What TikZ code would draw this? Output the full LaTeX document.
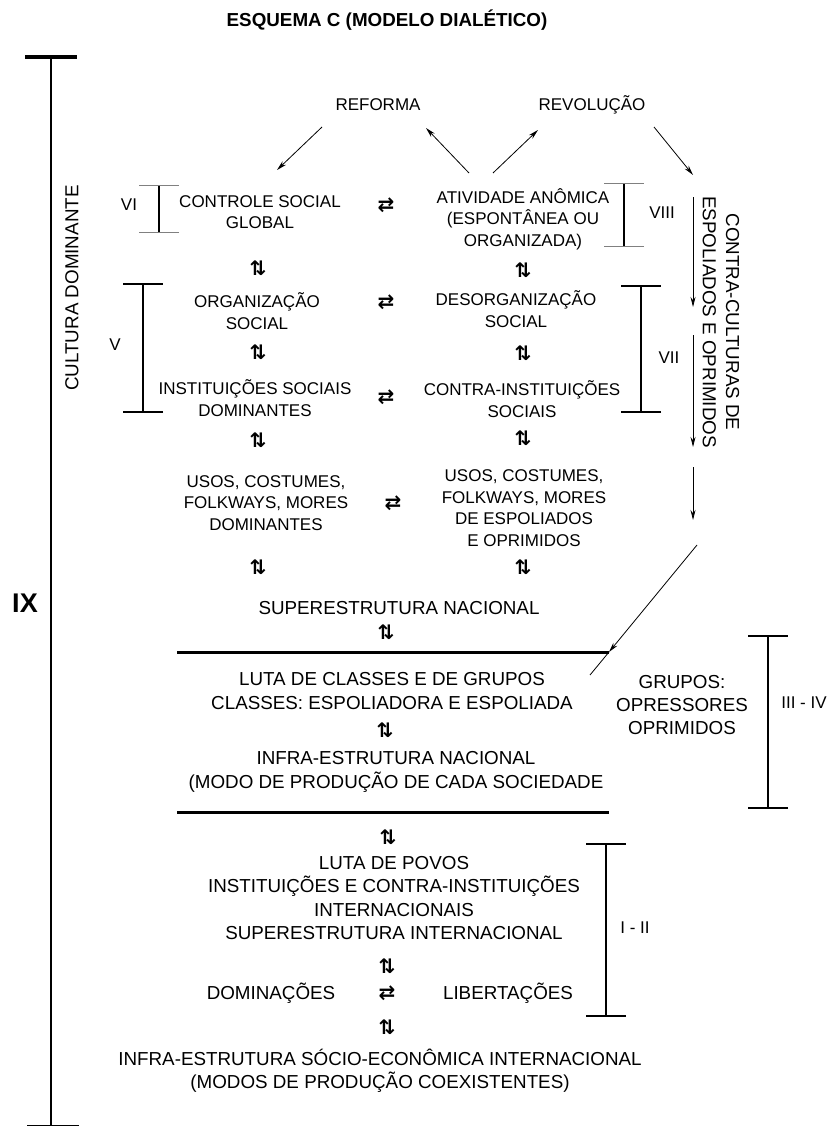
\documentclass[tikz,border=0pt]{standalone}
\usepackage{fontspec}
\setmainfont{Liberation Sans}
\newfontfamily\arrowfont{DejaVu Sans}
\usetikzlibrary{arrows.meta}

\begin{document}
\begin{tikzpicture}[x=1pt,y=-1pt,
    txt/.style={inner sep=1pt,align=center,font=\fontsize{17}{21.5}\selectfont},
    big/.style={inner sep=1pt,align=center,font=\fontsize{18.8}{23.4}\selectfont},
    sym/.style={inner sep=0pt,font=\arrowfont\bfseries\fontsize{20}{20}\selectfont},
    arr/.style={-{Stealth[length=10pt,width=5pt]},line width=0.8pt},
    brk/.style={{Bar[width=40pt,line width=1.6pt]}-{Bar[width=40pt,line width=1.6pt]},line width=2.2pt},
    brkgray/.style={{Bar[width=40pt,line width=1.2pt,color=gray]}-{Bar[width=40pt,line width=1.2pt,color=gray]},line width=2.2pt},
    rule/.style={line width=3pt}]
\useasboundingbox (0,0) rectangle (835,1126);

% titulo e nivel IX
\node[inner sep=1pt,font=\bfseries\fontsize{18.8}{20}\selectfont] (tit) at (387,20) {ESQUEMA C (MODELO DIALÉTICO)};
\node[inner sep=1pt,font=\bfseries\fontsize{27}{27}\selectfont] (ix) at (25,603) {IX};
\draw[line width=2.6pt] (51,57) -- (51,1126);
\draw[line width=3.5pt] (25,57) -- (77,57);
\draw[line width=2pt] (27,1126) -- (79,1126);
\node[big,rotate=90] (cdom) at (72,288) {CULTURA DOMINANTE};

% reforma e revolucao
\node[txt] (ref) at (378,105) {REFORMA};
\node[txt] (rev) at (592,105) {REVOLUÇÃO};

% superestrutura
\node[txt] (ctl) at (260,212) {CONTROLE SOCIAL\\GLOBAL};
\node[sym] (e1) at (386,205) {⇄};
\node[txt] (ati) at (523,219) {ATIVIDADE ANÔMICA\\(ESPONTÂNEA OU\\ORGANIZADA)};
\node[txt] (vi) at (129,205) {VI};
\node[txt] (viii) at (662,213) {VIII};
\node[sym] (u1) at (258,268) {⇅};
\node[sym] (u2) at (523,270) {⇅};
\node[txt] (org) at (257,311) {ORGANIZAÇÃO\\SOCIAL};
\node[sym] (e2) at (386,302) {⇄};
\node[txt] (des) at (516,309) {DESORGANIZAÇÃO\\SOCIAL};
\node[txt] (v) at (115,345) {V};
\node[txt] (vii) at (669,358) {VII};
\node[sym] (u3) at (258,352) {⇅};
\node[sym] (u4) at (523,353) {⇅};
\node[txt] (ins) at (255,398) {INSTITUIÇÕES SOCIAIS\\DOMINANTES};
\node[sym] (e3) at (386,397) {⇄};
\node[txt] (cin) at (522,399) {CONTRA-INSTITUIÇÕES\\SOCIAIS};
\node[sym] (u5) at (258,440) {⇅};
\node[sym] (u6) at (523,438) {⇅};
\node[txt] (usd) at (266,503) {USOS, COSTUMES,\\FOLKWAYS, MORES\\DOMINANTES};
\node[sym] (e4) at (393,503) {⇄};
\node[txt] (uso) at (524,508) {USOS, COSTUMES,\\FOLKWAYS, MORES\\DE ESPOLIADOS\\E OPRIMIDOS};
\node[sym] (u7) at (258,567) {⇅};
\node[sym] (u8) at (523,567) {⇅};
\node[big] (sup) at (399,608) {SUPERESTRUTURA NACIONAL};
\node[sym] (u9) at (386,632) {⇅};

% infra-estrutura nacional
\node[big] (lcl) at (392,691) {LUTA DE CLASSES E DE GRUPOS\\CLASSES: ESPOLIADORA E ESPOLIADA};
\node[sym] (u10) at (385,730) {⇅};
\node[big] (inf) at (396,772) {INFRA-ESTRUTURA NACIONAL\\(MODO DE PRODUÇÃO DE CADA SOCIEDADE};
\node[big] (grp) at (682,705) {GRUPOS:\\OPRESSORES\\OPRIMIDOS};
\node[txt] (iiiv) at (804,703) {III - IV};
\node[sym] (u11) at (388,837) {⇅};

% nivel internacional
\node[big] (lpv) at (394,898) {LUTA DE POVOS\\INSTITUIÇÕES E CONTRA-INSTITUIÇÕES\\INTERNACIONAIS\\SUPERESTRUTURA INTERNACIONAL};
\node[txt] (iii) at (635,928) {I - II};
\node[sym] (u12) at (387,966) {⇅};
\node[big] (dom) at (271,993) {DOMINAÇÕES};
\node[sym] (e5) at (387,993) {⇄};
\node[big] (lib) at (508,993) {LIBERTAÇÕES};
\node[sym] (u13) at (387,1027) {⇅};
\node[big] (ise) at (380,1071) {INFRA-ESTRUTURA SÓCIO-ECONÔMICA INTERNACIONAL\\(MODOS DE PRODUÇÃO COEXISTENTES)};

% contra-culturas
\node[big,rotate=-90] (ccu) at (721,322) {CONTRA-CULTURAS DE\\ESPOLIADOS E OPRIMIDOS};
\coordinate (k0) at (693,175);
\coordinate (k1) at (693,197);
\coordinate (k2) at (693,307);
\coordinate (k3) at (693,335);
\coordinate (k4) at (693,447);
\coordinate (k5) at (693,467);
\coordinate (k6) at (693,520);
\coordinate (k7) at (697,545);

% linhas horizontais
\coordinate (nacL) at (177,652);
\coordinate (nacR) at (609,652);
\coordinate (basL) at (177,812);
\coordinate (basR) at (609,812);
\draw[rule] (nacL) -- (nacR);
\draw[rule] (basL) -- (basR);

% colchetes
\draw[brkgray] (159,185) -- (159,233);
\draw[brkgray] (624,183) -- (624,247);
\draw[brk] (143,283) -- (143,413);
\draw[brk] (641,285) -- (641,413);
\draw[brk] (768,635) -- (768,809);
\draw[brk] (606,843) -- (606,1017);

% setas
\draw[arr] ([shift={(-56,22)}]ref.center) -- ([shift={(17,-42)}]ctl.center);
\draw[arr] ([shift={(-54,-46)}]ati.center) -- ([shift={(48,23)}]ref.center);
\draw[arr] ([shift={(-30,-46)}]ati.center) -- ([shift={(-54,25)}]rev.center);
\draw[arr] ([shift={(62,22)}]rev.center) -- (k0);
\draw[arr] (k1) -- (k2);
\draw[arr] (k3) -- (k4);
\draw[arr] (k5) -- (k6);
\draw[arr] (k7) -- (nacR);
\draw[line width=0.8pt] (nacR) -- (590,675);
\end{tikzpicture}
\end{document}
